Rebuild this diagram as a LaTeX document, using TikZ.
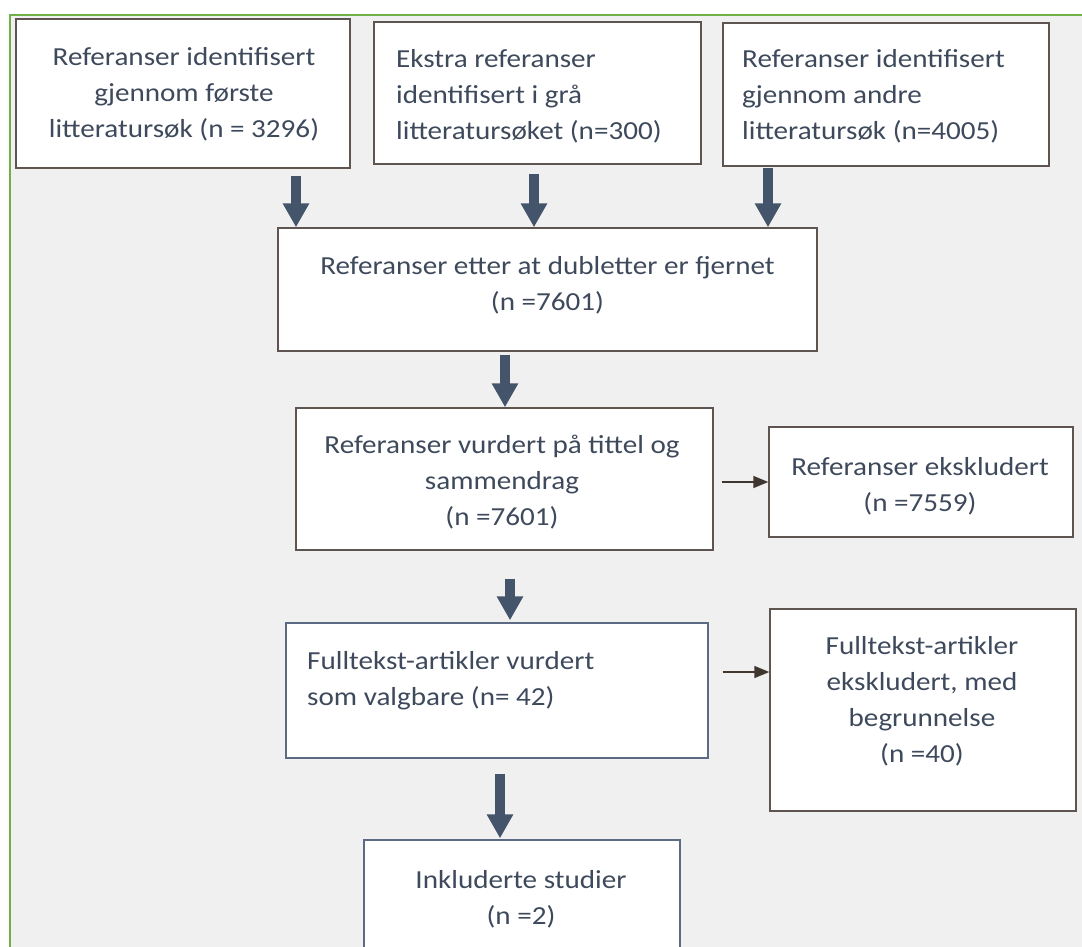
\documentclass[tikz,border=0pt]{standalone}
\usepackage{fontspec}
\setmainfont{Carlito}[FakeStretch=1.12]
\usetikzlibrary{arrows.meta}
\definecolor{txtc}{RGB}{62,74,92}
\definecolor{boxc}{RGB}{95,85,80}
\definecolor{boxb}{RGB}{92,106,132}
\definecolor{arrc}{RGB}{68,84,106}
\definecolor{thinc}{RGB}{64,54,48}
\definecolor{bgc}{RGB}{240,240,240}
\definecolor{framec}{RGB}{112,176,72}
\tikzset{
  flowbox/.style={draw=boxc, fill=white, line width=1.4pt, inner sep=0pt},
  flowboxb/.style={flowbox, draw=boxb},
  lbl/.style={inner sep=0pt, text=txtc, font=\fontsize{26}{36}\selectfont},
  bigarr/.style={draw=arrc, line width=10pt, -{Triangle[width=25pt,length=24pt]}},
  thinarr/.style={draw=thinc, line width=1.5pt, -{Triangle[width=12pt,length=15pt]}}
}
\begin{document}
\begin{tikzpicture}[x=1pt,y=-1pt]
\useasboundingbox (0,0) rectangle (1082,946);
\fill[white] (0,0) rectangle (1082,946);
\draw[draw=framec, line width=1.6pt, fill=bgc] (10,15) rectangle (1110,980);

% boxes
\node[flowbox, minimum width=334pt, minimum height=149pt] (b1) at (183,93.5) {};
\node[flowbox, minimum width=327pt, minimum height=142pt] (b2) at (537.5,93) {};
\node[flowbox, minimum width=326pt, minimum height=143pt] (b3) at (886,94.5) {};
\node[flowbox, minimum width=539pt, minimum height=123pt] (b4) at (547.5,289.5) {};
\node[flowbox, minimum width=417pt, minimum height=142pt] (b5) at (504.5,479) {};
\node[flowbox, minimum width=304pt, minimum height=110pt] (b6) at (921,482) {};
\node[flowboxb, minimum width=422pt, minimum height=135pt] (b7) at (497,690.5) {};
\node[flowbox, minimum width=306pt, minimum height=202pt] (b8) at (923,710) {};
\node[flowboxb, minimum width=316pt, minimum height=140pt] (b9) at (522,910) {};

% texts
\node[lbl, align=center] (l1) at (184,94.3) {\strut Referanser identifisert\\\strut gjennom første\\\strut litteratursøk (n = 3296)};
\node[lbl, align=left, anchor=west] (l2) at (396,95.8) {\strut Ekstra referanser\\\strut identifisert i grå\\\strut litteratursøket (n=300)};
\node[lbl, align=left, anchor=west] (l3) at (742,96.3) {\strut Referanser identifisert\\\strut gjennom andre\\\strut litteratursøk (n=4005)};
\node[lbl, align=center] (l4) at (547.5,285.3) {\strut Referanser etter at dubletter er fjernet\\\strut (n =7601)};
\node[lbl, align=center] (l5) at (502,481.8) {\strut Referanser vurdert på tittel og\\\strut sammendrag\\\strut (n =7601)};
\node[lbl, align=center] (l6) at (920,486.3) {\strut Referanser ekskludert\\\strut (n =7559)};
\node[lbl, align=left, anchor=west] (l7) at (307,680.3) {\strut Fulltekst-artikler vurdert\\\strut som valgbare (n= 42)};
\node[lbl, align=center] (l8) at (922,701.3) {\strut Fulltekst-artikler\\\strut ekskludert, med\\\strut begrunnelse\\\strut (n =40)};
\node[lbl, align=center] (l9) at (521,899.3) {\strut Inkluderte studier\\\strut (n =2)};

% arrow x positions
\coordinate (x1) at (296,0);
\coordinate (x2) at (534,0);
\coordinate (x3) at (768,0);
\coordinate (x4) at (505,0);
\coordinate (x5) at (510,0);
\coordinate (x6) at (500,0);
\coordinate (y2) at (0,672);

\draw[bigarr, shorten <=7pt] (b1.south -| x1) -- (b4.north -| x1);
\draw[bigarr, shorten <=9pt] (b2.south -| x2) -- (b4.north -| x2);
\draw[bigarr, shorten <=1pt] (b3.south -| x3) -- (b4.north -| x3);
\draw[bigarr, shorten <=3pt] (b4.south -| x4) -- (b5.north -| x4);
\draw[bigarr, shorten <=28pt, shorten >=2pt] (b5.south -| x5) -- (b7.north -| x5);
\draw[bigarr, shorten <=15pt, shorten >=1pt] (b7.south -| x6) -- (b9.north -| x6);

\draw[thinarr, shorten <=8pt] (b5.east |- b6.west) -- (b6.west);
\draw[thinarr, shorten <=14pt] (b7.east |- y2) -- (b8.west |- y2);
\end{tikzpicture}
\end{document}
